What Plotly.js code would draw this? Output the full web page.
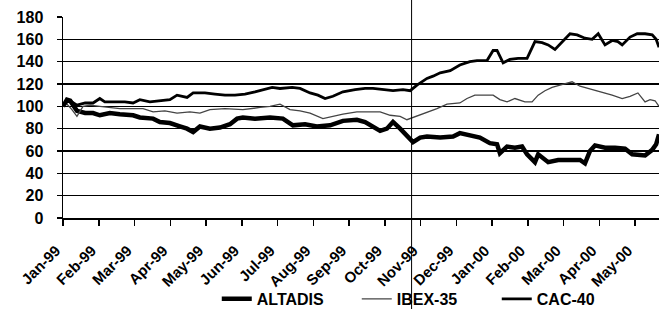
<!DOCTYPE html>
<html>
<head>
<meta charset="utf-8">
<script src="https://cdn.plot.ly/plotly-3.0.1.min.js"></script>
<style>html,body{margin:0;padding:0;background:#fff;}#chart{width:661px;height:309px;}</style>
</head>
<body>
<div id="chart"></div>
<script>
// Month labels (x = months since Jan-99)
const monthLabels = ['Jan-99','Feb-99','Mar-99','Apr-99','May-99','Jun-99','Jul-99','Aug-99','Sep-99','Oct-99','Nov-99','Dec-99','Jan-00','Feb-00','Mar-00','Apr-00','May-00'];
const monthTicks = [0,1,2,3,4,5,6,7,8,9,10,11,12,13,14,15,16];
const xEnd = 16.67;
const eventT = 9.75;

const altadisT = [0,0.11,0.2,0.39,0.62,0.84,1.03,1.31,1.59,1.96,2.15,2.52,2.71,2.99,3.27,3.47,3.64,3.83,4.11,4.39,4.67,4.87,5.03,5.37,5.79,6.15,6.43,6.77,7.1,7.47,7.83,8.22,8.45,8.67,8.87,9.06,9.23,9.43,9.51,9.71,9.79,9.99,10.18,10.55,10.91,11.1,11.38,11.66,11.94,12.14,12.22,12.42,12.64,12.84,12.98,13.12,13.2,13.29,13.57,13.85,14.18,14.46,14.6,14.74,14.88,15.16,15.44,15.72,15.92,16.14,16.28,16.48,16.59,16.67];
const altadisV = [100,106,105,96,94,94,92,94,93,92,90,89,86,85,82,80,77,82,80,81,84,89,90,89,90,89,83,84,82,83,87,88,86,82,78,80,86,80,77,70,68,72,73,72,73,76,74,72,67,66,58,64,63,64,57,52,50,57,50,52,52,52,49,60,65,63,63,62,57,57,56,61,66,75];

const ibexT = [0,0.11,0.25,0.39,0.56,0.76,1.03,1.31,1.59,1.87,2.24,2.52,2.85,3.19,3.55,3.83,4.11,4.53,5.03,5.51,5.79,6.07,6.35,6.63,6.91,7.27,7.55,7.83,8.22,8.59,8.87,9.15,9.43,9.62,9.79,9.99,10.18,10.46,10.74,11.1,11.3,11.52,11.8,12.03,12.22,12.42,12.64,12.92,13.12,13.29,13.48,13.68,13.9,14.24,14.46,14.69,14.97,15.16,15.36,15.64,15.86,16.08,16.28,16.42,16.56,16.67];
const ibexV = [100,102,97,91,100,101,100,99,98,98,98,95,96,94,95,94,97,98,97,99,100,102,97,96,94,89,91,93,95,95,95,92,91,88,90,92,94,98,102,103,107,110,110,110,106,104,107,104,104,110,114,117,119,122,118,116,113,112,110,107,109,112,104,106,105,100];

const cacT = [0,0.11,0.2,0.39,0.62,0.84,1.03,1.17,1.4,1.73,1.96,2.15,2.43,2.71,2.99,3.19,3.47,3.64,3.97,4.25,4.53,4.81,5.09,5.37,5.65,5.85,6.07,6.41,6.63,6.91,7.13,7.33,7.55,7.83,8.17,8.45,8.67,8.95,9.23,9.51,9.71,9.9,10.18,10.35,10.55,10.83,11.1,11.38,11.58,11.86,12.03,12.14,12.31,12.5,12.73,12.98,13.2,13.4,13.57,13.76,13.96,14.18,14.38,14.6,14.8,14.97,15.16,15.36,15.52,15.64,15.86,16.06,16.28,16.48,16.59,16.67];
const cacV = [100,104,105,101,103,103,107,104,104,104,103,106,104,105,106,110,108,112,112,111,110,110,111,113,115,117,116,117,116,112,110,107,109,113,115,116,116,115,114,115,114,119,125,127,130,132,137,140,141,141,150,150,139,142,143,143,158,157,155,151,158,165,164,161,160,165,155,159,158,155,162,165,165,164,160,153];

const FONT = {family: 'Liberation Sans, Arial, sans-serif', size: 16, color: '#000', weight: 'bold'};
const XFONT = {family: 'Liberation Sans, Arial, sans-serif', size: 15, color: '#000', weight: 'bold'};

const traces = [
  {x: altadisT, y: altadisV, name: 'ALTADIS', type: 'scatter', mode: 'lines', line: {color: '#000', width: 4.5}},
  {x: ibexT, y: ibexV, name: 'IBEX-35', type: 'scatter', mode: 'lines', line: {color: '#444', width: 1.3}},
  {x: cacT, y: cacV, name: 'CAC-40', type: 'scatter', mode: 'lines', line: {color: '#000', width: 2.8}}
];

const layout = {
  width: 661, height: 309,
  margin: {l: 63, r: 2, t: 17, b: 91, autoexpand: false},
  paper_bgcolor: '#fff', plot_bgcolor: '#fff',
  font: FONT,
  showlegend: true,
  legend: {orientation: 'h', x: 0.258, xanchor: 'left', y: -0.318, yanchor: 'top', font: FONT,
           entrywidth: 95, entrywidthmode: 'pixels', bgcolor: 'rgba(0,0,0,0)'},
  xaxis: {
    range: [0, xEnd], tickvals: monthTicks, ticktext: monthLabels,
    tickangle: -45,
    ticks: 'outside', ticklen: 6, tickwidth: 1.5, tickcolor: '#000',
    ticklabelstandoff: 10, ticklabelshift: -7,
    showline: true, linecolor: '#000', linewidth: 2,
    showgrid: false, zeroline: false, tickfont: XFONT, fixedrange: true, automargin: false
  },
  yaxis: {
    range: [0, 180], dtick: 20, tick0: 0,
    ticks: 'outside', ticklen: 5, tickwidth: 1.5, tickcolor: '#000',
    ticklabelstandoff: 10,
    showline: true, linecolor: '#000', linewidth: 1.5,
    showgrid: true, gridcolor: '#000', gridwidth: 1.6,
    zeroline: false, tickfont: FONT, fixedrange: true, automargin: false
  },
  shapes: [
    {type: 'line', xref: 'x', yref: 'paper', x0: eventT, x1: eventT, y0: -0.5, y1: 1.1, line: {color: '#000', width: 1}}
  ]
};

Plotly.newPlot('chart', traces, layout, {displayModeBar: false, staticPlot: true});
</script>
</body>
</html>
